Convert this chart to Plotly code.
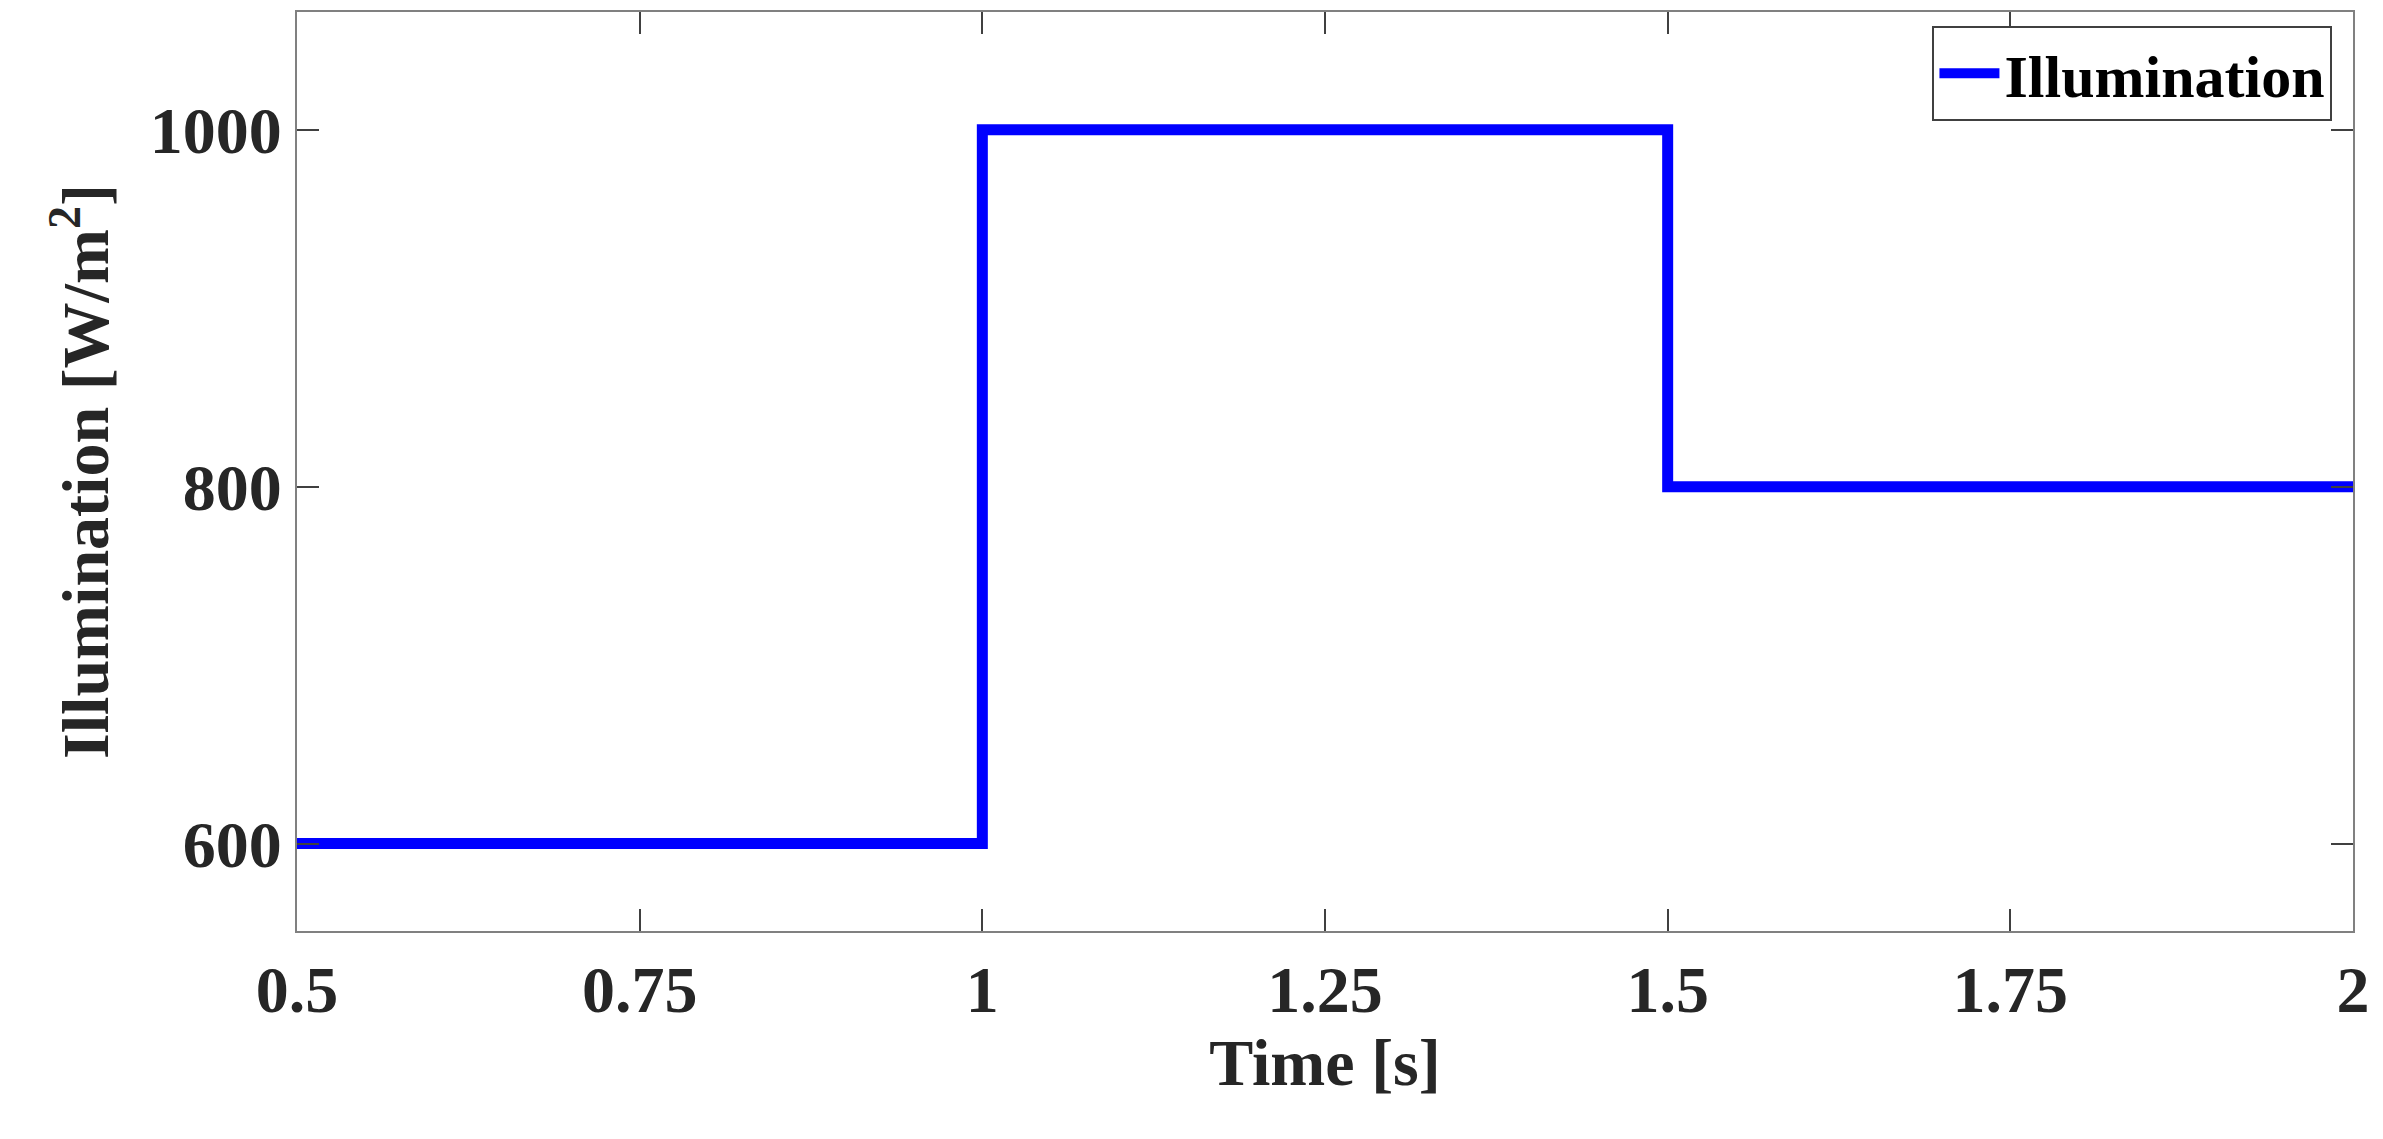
import plotly.graph_objects as go

time_s = [0.5, 1.0, 1.0, 1.5, 1.5, 2.0]
illumination = [600, 600, 1000, 1000, 800, 800]
x_ticks = [0.5, 0.75, 1, 1.25, 1.5, 1.75, 2]
x_labels = ["0.5", "0.75", "1", "1.25", "1.5", "1.75", "2"]
y_ticks = [600, 800, 1000]

font = "Liberation Serif"

fig = go.Figure()
fig.add_trace(go.Scatter(x=time_s, y=illumination, mode="lines", name="<b>Illumination</b>",
                         line=dict(color="#0000ff", width=11)))

axis_common = dict(showline=True, linecolor="#808080", linewidth=2, mirror="ticks",
                   ticks="inside", ticklen=22, tickcolor="#404040", tickwidth=2,
                   showgrid=False, zeroline=False,
                   tickfont=dict(family=font, size=66, color="#262626"))
fig.update_xaxes(range=[0.5, 2], tickvals=x_ticks, ticktext=["<b>%s</b>" % t for t in x_labels],
                 title=dict(text="<b>Time [s]</b>", font=dict(family=font, size=66, color="#262626"), standoff=10),
                 **axis_common)
fig.update_yaxes(range=[551, 1066], tickvals=y_ticks, ticktext=["<b>%d</b>" % t for t in y_ticks],
                 title=dict(text="<b>Illumination [W/m<sup>2</sup>]</b>", font=dict(family=font, size=66, color="#262626"), standoff=20),
                 **axis_common)
fig.update_layout(
    width=2383, height=1139,
    margin=dict(l=289, r=38, t=2, b=216),
    plot_bgcolor="white", paper_bgcolor="white",
    showlegend=True,
    legend=dict(x=0.99, y=0.985, xanchor="right", yanchor="top",
                bordercolor="#404040", borderwidth=2, bgcolor="white",
                font=dict(family=font, size=60, color="black"), itemwidth=60),
)
fig.write_html("out.html")
